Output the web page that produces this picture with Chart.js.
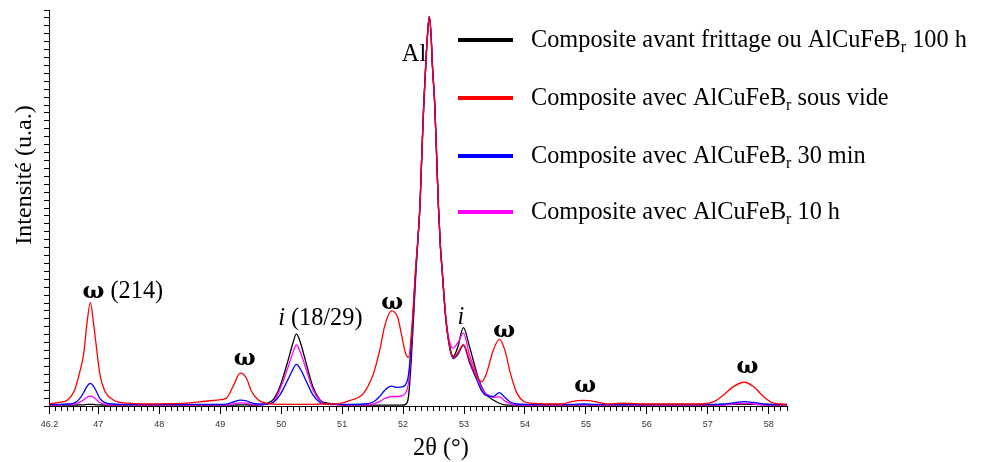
<!DOCTYPE html>
<html>
<head>
<meta charset="utf-8">
<script src="https://cdn.jsdelivr.net/npm/chart.js@4.4.0/dist/chart.umd.min.js"></script>
<style>
  html, body { margin: 0; padding: 0; background: #fff; }
</style>
</head>
<body>
<canvas id="xrdChart" width="986" height="462"></canvas>
<script>
/* ============================================================
   DATA  (2θ in degrees, intensity in arbitrary units 0-100)
============================================================ */
const twoTheta = [
  46.19, 46.35, 46.50, 46.61, 46.69, 46.76, 46.81, 46.87, 46.92, 46.97,
  47.02, 47.10, 47.24, 47.49, 47.80, 48.20, 48.50, 48.75, 48.95, 49.10,
  49.20, 49.33, 49.43, 49.51, 49.62, 49.76, 49.88, 49.98, 50.10, 50.19,
  50.25, 50.32, 50.41, 50.52, 50.64, 50.77, 50.95, 51.13, 51.35, 51.51,
  51.62, 51.70, 51.81, 51.91, 51.98, 52.04, 52.09, 52.14, 52.21, 52.25,
  52.28, 52.31, 52.34, 52.38, 52.40, 52.43, 52.46, 52.48, 52.52, 52.55,
  52.58, 52.61, 52.64, 52.70, 52.75, 52.82, 52.90, 52.99, 53.09, 53.21,
  53.29, 53.37, 53.48, 53.58, 53.67, 53.76, 53.87, 54.09, 54.40, 54.60,
  54.76, 54.96, 55.15, 55.35, 55.60, 56.00, 56.50, 56.90, 57.10, 57.26,
  57.42, 57.60, 57.75, 57.92, 58.08, 58.30
];

// Composite avant frittage ou AlCuFeBr 100 h
const black100h = [
  0.2, 0.2, 0.2, 0.2, 0.3, 0.3, 0.4, 0.4, 0.4, 0.3,
  0.3, 0.2, 0.2, 0.2, 0.2, 0.2, 0.2, 0.2, 0.2, 0.2,
  0.2, 0.3, 0.3, 0.2, 0.2, 0.6, 1.8, 4.9, 10.8, 15.8,
  18.2, 15.8, 10.8, 4.9, 1.5, 0.7, 0.3, 0.2, 0.2, 0.2,
  0.2, 0.2, 0.2, 0.2, 0.2, 0.4, 2.5, 13.0, 33.5, 43.5,
  51.5, 64.6, 76.3, 88.5, 93.5, 98.4, 93.5, 86.5, 76.0, 63.5,
  50.5, 41.0, 34.5, 22.5, 16.5, 12.5, 15.0, 19.8, 15.0, 8.3,
  4.8, 2.8, 1.5, 0.7, 0.3, 0.2, 0.2, 0.2, 0.2, 0.2,
  0.2, 0.3, 0.2, 0.2, 0.2, 0.2, 0.2, 0.2, 0.2, 0.3,
  0.4, 0.5, 0.4, 0.3, 0.2, 0.2
];

// Composite avec AlCuFeBr sous vide
const redVide = [
  0.6, 0.9, 1.6, 4.0, 8.3, 13.3, 20.5, 26.1, 21.0, 14.6,
  8.5, 4.0, 1.6, 0.7, 0.5, 0.6, 0.8, 1.2, 1.5, 2.0,
  4.6, 8.3, 7.0, 3.8, 1.6, 0.7, 0.5, 0.4, 0.4, 0.4,
  0.4, 0.4, 0.4, 0.4, 0.5, 0.5, 0.6, 1.4, 3.2, 8.0,
  14.3, 20.3, 24.0, 22.4, 17.6, 13.3, 12.3, 19.0, 35.8, 43.5,
  51.5, 64.6, 76.3, 88.5, 93.5, 98.4, 93.5, 86.5, 76.0, 63.5,
  50.5, 41.0, 34.5, 22.5, 16.0, 12.2, 13.5, 15.5, 11.6, 7.4,
  6.1, 8.3, 14.1, 16.8, 14.1, 8.3, 3.2, 0.7, 0.5, 0.5,
  1.1, 1.4, 1.1, 0.5, 0.7, 0.5, 0.5, 0.5, 1.1, 2.8,
  4.9, 6.0, 4.9, 2.3, 0.7, 0.4
];

// Composite avec AlCuFeBr 30 min
const blue30min = [
  0.4, 0.4, 0.5, 0.8, 1.8, 3.4, 4.9, 5.7, 5.0, 3.6,
  2.0, 0.9, 0.5, 0.4, 0.4, 0.4, 0.4, 0.4, 0.4, 0.5,
  0.9, 1.5, 1.3, 0.8, 0.5, 0.5, 1.0, 2.8, 6.3, 9.2,
  10.5, 9.2, 6.3, 2.8, 0.9, 0.5, 0.4, 0.4, 0.5, 1.0,
  2.5, 4.0, 5.0, 4.7, 4.8, 5.4, 8.0, 17.0, 35.0, 43.5,
  51.5, 64.6, 76.3, 88.5, 93.5, 98.4, 93.5, 86.5, 76.0, 63.5,
  50.5, 41.0, 34.5, 22.0, 16.0, 12.0, 13.0, 15.3, 11.0, 6.6,
  3.8, 2.6, 2.4, 3.4, 2.2, 1.0, 0.5, 0.4, 0.4, 0.4,
  0.4, 0.5, 0.4, 0.4, 0.4, 0.4, 0.4, 0.4, 0.4, 0.5,
  0.8, 1.1, 0.9, 0.5, 0.4, 0.4
];

// Composite avec AlCuFeBr 10 h
const magenta10h = [
  0.3, 0.3, 0.4, 0.5, 0.9, 1.6, 2.2, 2.5, 2.2, 1.6,
  0.9, 0.5, 0.3, 0.3, 0.3, 0.3, 0.3, 0.3, 0.3, 0.3,
  0.5, 0.8, 0.7, 0.4, 0.3, 0.4, 1.2, 4.2, 9.2, 13.4,
  15.4, 13.4, 9.2, 4.2, 1.3, 0.4, 0.3, 0.3, 0.3, 0.5,
  1.2, 1.9, 2.4, 2.4, 2.6, 3.3, 6.0, 16.0, 34.5, 43.5,
  51.5, 64.6, 76.3, 88.5, 93.5, 98.4, 93.5, 86.5, 76.0, 63.5,
  50.5, 41.0, 34.5, 22.5, 17.0, 14.6, 16.0, 18.4, 12.9, 7.8,
  4.4, 3.0, 2.2, 2.3, 1.3, 0.6, 0.3, 0.3, 0.3, 0.3,
  0.3, 0.3, 0.3, 0.3, 0.3, 0.3, 0.3, 0.3, 0.3, 0.3,
  0.5, 0.7, 0.5, 0.3, 0.3, 0.3
];

// légende : [avant l'indice, indice, après l'indice]
const seriesNames = [
  ['Composite avant frittage ou AlCuFeB', 'r', ' 100 h'],
  ['Composite avec AlCuFeB', 'r', ' sous vide'],
  ['Composite avec AlCuFeB', 'r', ' 30 min'],
  ['Composite avec AlCuFeB', 'r', ' 10 h']
];
const seriesColors = ['#000000', '#ff0000', '#0000ff', '#ff00ff'];

// repères des pics : texte, 2θ, intensité (partie italique éventuelle)
const peakText   = ['ω (214)', 'ω', ' (18/29)', 'ω', 'Al', '', 'ω', 'ω', 'ω'];
const peakItalic = ['', '', 'i', '', '', 'i', '', '', ''];
const peakTheta  = [46.74, 49.40, 49.95, 51.82, 51.98, 52.95, 53.66, 54.99, 57.65];
const peakInt    = [27.3, 10.4, 20.5, 24.4, 87.1, 20.7, 17.4, 3.5, 8.3];
const peakAlign  = ['left', 'center', 'left', 'center', 'left', 'center', 'center', 'center', 'center'];

const xTitle = '2θ (°)';
const yTitle = 'Intensité (u.a.)';

/* ============================================================
   TEXTES SUR LE CANVAS (repères, titres, légende)
============================================================ */
const SERIF = '"Liberation Serif", "Times New Roman", serif';
const OMEGA_FONT = 'bold 23px "DejaVu Serif", serif';

function fontOf(p) {
  if (p.t === 'ω') return OMEGA_FONT;
  return `${p.italic ? 'italic ' : ''}${p.sub ? 16 : 24.3}px ${SERIF}`;
}

function drawRun(ctx, parts, x, y, align) {
  // parts: [{ t, italic, sub }] ; le ω est dessiné dans une police plus large
  const pieces = [];
  parts.forEach(p => {
    p.t.split(/(ω)/).filter(s => s).forEach(s => pieces.push({ ...p, t: s }));
  });
  let total = 0;
  pieces.forEach(p => { ctx.font = fontOf(p); total += ctx.measureText(p.t).width; });
  let cx = align === 'center' ? x - total / 2 : x;
  ctx.textAlign = 'left';
  ctx.textBaseline = 'alphabetic';
  pieces.forEach(p => {
    ctx.font = fontOf(p);
    ctx.fillText(p.t, cx, y + (p.sub ? 5 : 0));
    cx += ctx.measureText(p.t).width;
  });
}

const xrdText = {
  id: 'xrdText',
  afterDraw(chart) {
    const { ctx, scales: { x, y } } = chart;
    ctx.save();
    ctx.fillStyle = '#000';

    // repères des pics
    peakText.forEach((t, i) => {
      const parts = [];
      if (peakItalic[i]) parts.push({ t: peakItalic[i], italic: true });
      if (t) parts.push({ t });
      drawRun(ctx, parts, x.getPixelForValue(peakTheta[i]), y.getPixelForValue(peakInt[i]), peakAlign[i]);
    });

    // titres des axes
    drawRun(ctx, [{ t: xTitle }], 441, 455, 'center');
    ctx.save();
    ctx.translate(25, 175);
    ctx.rotate(-Math.PI / 2);
    ctx.font = `24px ${SERIF}`;
    ctx.textAlign = 'center';
    ctx.textBaseline = 'middle';
    ctx.fillText(yTitle, 0, 0);
    ctx.restore();

    // légende
    const baselines = [47, 105, 163, 219];
    seriesNames.forEach((name, i) => {
      const base = baselines[i];
      ctx.strokeStyle = seriesColors[i];
      ctx.lineWidth = 4;
      ctx.beginPath();
      ctx.moveTo(458, base - 7);
      ctx.lineTo(513, base - 7);
      ctx.stroke();
      drawRun(ctx, [{ t: name[0] }, { t: name[1], sub: true }, { t: name[2] }], 531, base, 'left');
    });
    ctx.restore();
  }
};

/* ============================================================
   GRAPHIQUE
============================================================ */
const toPoints = arr => arr.map((v, i) => ({ x: twoTheta[i], y: v }));
const drawOrder = [3, 0, 1, 2];
const seriesData = [black100h, redVide, blue30min, magenta10h];

const isMajor = v => Math.abs(v - Math.round(v)) < 1e-6;

new Chart(document.getElementById('xrdChart'), {
  type: 'line',
  data: {
    datasets: seriesData.map((d, i) => ({
      label: seriesNames[i].join(''),
      data: toPoints(d),
      borderColor: seriesColors[i],
      borderWidth: 1.3,
      pointRadius: 0,
      cubicInterpolationMode: 'monotone',
      order: drawOrder[i]
    }))
  },
  options: {
    responsive: false,
    animation: false,
    layout: { padding: { left: 0, top: 10, right: 199, bottom: 0 } },
    plugins: { legend: { display: false }, tooltip: { enabled: false } },
    scales: {
      x: {
        type: 'linear',
        min: 46.19,
        max: 58.30,
        afterFit: s => { s.height = 56; },
        afterBuildTicks: s => {
          const t = [];
          for (let k = 462; k <= 583; k++) t.push({ value: k / 10 });
          s.ticks = t;
        },
        border: { display: true, color: '#000', width: 1 },
        grid: {
          drawOnChartArea: false,
          tickLength: 8,
          tickColor: '#000',
          tickBorderDash: c => (c.tick && (isMajor(c.tick.value) || Math.abs(c.tick.value - 46.2) < 1e-6)) ? [] : [4, 20]
        },
        ticks: {
          autoSkip: false,
          maxRotation: 0,
          padding: 5,
          color: '#333',
          font: { family: '"Liberation Sans", Arial, sans-serif', size: 9 },
          callback: v => {
            const r = Math.round(v * 10) / 10;
            if (isMajor(r) || r === 46.2) return String(r);
            return '';
          }
        }
      },
      y: {
        min: 0,
        max: 100,
        afterFit: s => { s.width = 49; },
        border: { display: true, color: '#000', width: 1 },
        grid: { drawOnChartArea: false, tickLength: 5, tickColor: '#000' },
        ticks: { display: false, stepSize: 2 }
      }
    }
  },
  plugins: [xrdText]
});
</script>
</body>
</html>
